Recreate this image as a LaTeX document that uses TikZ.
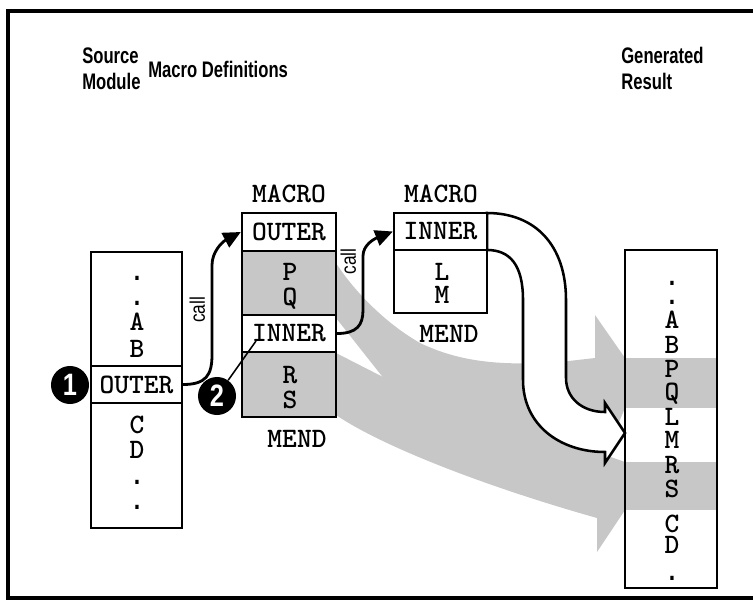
\documentclass[tikz,border=0pt]{standalone}
\usepackage{fontspec}
\setsansfont{Liberation Sans}[FakeStretch=0.82]
\newfontfamily\headfam{Liberation Sans}[FakeStretch=0.74]
\newfontfamily\cellfam{lmmonolt10-bold.otf}
\usepackage{tikz}
\usetikzlibrary{arrows.meta}
\definecolor{stipple}{gray}{0.78}
\newcommand{\cellfont}{\cellfam\fontsize{20}{20}\selectfont}
\newcommand{\dotc}{{\sffamily\bfseries .}}

\begin{document}
\begin{tikzpicture}[x=0.025cm, y=-0.025cm,
  box/.style={draw, line width=1.6pt, fill=white, inner sep=0pt},
  shadebox/.style={box, fill=stipple},
  letter/.style={font=\cellfont, anchor=base, inner sep=0pt},
  heading/.style={font=\headfam\bfseries\fontsize{16}{16}\selectfont, anchor=base west, inner sep=0pt},
  badge/.style={circle, fill=black, minimum size=0.95cm, inner sep=0pt, text=white,
    font=\sffamily\bfseries\fontsize{22}{22}\selectfont},
  callarrow/.style={line width=2pt, -{Triangle[length=0.44cm, width=0.4cm]}},
  calllabel/.style={font=\sffamily\fontsize{15}{15}\selectfont, rotate=90, inner sep=0pt}]
\useasboundingbox (0,0) rectangle (753,602);
% frame, open on the right
\draw[line width=3.5pt] (770,11) -- (8,11) -- (8,598) -- (770,598);

% headings
\node[heading] (hSource) at (82,64) {Source};
\node[heading] (hModule) at (82,90) {Module};
\node[heading] (hMacro) at (148,78) {Macro Definitions};
\node[heading] (hGen) at (621,64) {Generated};
\node[heading] (hRes) at (621,90) {Result};

% gray flows from the macro bodies into the result
\fill[stipple] (336,263) .. controls (350,285) and (380,320) .. (420,343)
  .. controls (460,362) and (500,366) .. (560,362) -- (595,358) -- (595,315)
  -- (625,358) -- (625,408) -- (605,455) .. controls (500,455) and (420,405) .. (385,380)
  -- (336,318) -- cycle;
\fill[stipple] (336,353) -- (385,378) .. controls (450,405) and (540,440) .. (605,455)
  -- (625,462) -- (625,510) -- (597,552) -- (597,518)
  .. controls (480,485) and (380,445) .. (336,415) -- cycle;
\fill[stipple] (625,358) rectangle (717,408);
\fill[stipple] (625,462) rectangle (717,510);

% white flow from the inner macro
\draw[line width=1.8pt, fill=white, line join=miter] (487,213)
  .. controls (535,213) and (566,245) .. (566,300) -- (566,378)
  .. controls (566,398) and (582,412) .. (605,412) -- (605,403) -- (625,433)
  -- (605,463) -- (605,452) .. controls (560,452) and (523,425) .. (523,380)
  -- (523,300) .. controls (523,265) and (510,250) .. (487,250) -- cycle;

% source module
\node[box, minimum width=2.275cm, minimum height=2.85cm] (srcTop) at (136.5,309) {};
\node[box, minimum width=2.275cm, minimum height=0.925cm, font=\cellfont] (srcOuter) at (136.5,384.5) {OUTER};
\node[box, minimum width=2.275cm, minimum height=3.125cm] (srcBot) at (136.5,465.5) {};
\foreach \t/\y [count=\i] in {\dotc/280, \dotc/305, A/330, B/357}
  \node[letter] (srcU\i) at (137,\y) {\t};
\foreach \t/\y [count=\i] in {C/433, D/458, \dotc/484, \dotc/509}
  \node[letter] (srcL\i) at (137,\y) {\t};

% macro OUTER
\node[letter] (m1Head) at (289,203) {MACRO};
\node[box, minimum width=2.35cm, minimum height=0.95cm, font=\cellfont] (m1Outer) at (289,232) {OUTER};
\node[shadebox, minimum width=2.35cm, minimum height=1.6cm] (m1PQ) at (289,283) {};
\node[box, minimum width=2.35cm, minimum height=0.925cm, font=\cellfont] (m1Inner) at (289,333.5) {INNER};
\node[shadebox, minimum width=2.35cm, minimum height=1.625cm] (m1RS) at (289,384.5) {};
\node[letter] (m1P) at (290,280) {P};
\node[letter] (m1Q) at (290,305) {Q};
\node[letter] (m1R) at (290,383) {R};
\node[letter] (m1S) at (290,408) {S};
\node[letter] (m1End) at (297,447) {MEND};

% macro INNER
\node[letter] (m2Head) at (441,203) {MACRO};
\node[box, minimum width=2.325cm, minimum height=0.925cm, font=\cellfont] (m2Inner) at (440.5,231.5) {INNER};
\node[box, minimum width=2.325cm, minimum height=1.575cm] (m2LM) at (440.5,281.5) {};
\node[letter] (m2L) at (442,280) {L};
\node[letter] (m2M) at (442,303) {M};
\node[letter] (m2End) at (449,342) {MEND};

% generated result
\node[box, fill=none, line width=1.4pt, minimum width=2.3cm, minimum height=8.45cm] (res) at (671,419) {};
\foreach \t/\y [count=\i] in {\dotc/285, \dotc/304, A/328, B/353, P/377, Q/400, L/425,
    M/448, R/473, S/497, C/532, D/553, \dotc/580}
  \node[letter] (res\i) at (672,\y) {\t};

% calls
\draw[callarrow] (srcOuter.east) .. controls (206,384.5) and (212,375) .. (212,355)
  -- (212,265) node[calllabel, midway, anchor=south, inner sep=4pt] {call}
  .. controls (212,252) and (222,242) .. (m1Outer.west);
\draw[callarrow] (m1Inner.east) .. controls (357,333.5) and (363,325) .. (363,310)
  -- (363,256) node[calllabel, pos=0.9, anchor=south, inner sep=4pt] {call}
  .. controls (363,245) and (374,239) .. (m2Inner.west);

% numbered markers
\node[badge] (b1) at (70,385) {1};
\node[badge] (b2) at (217,396) {2};
\coordinate (ptrTwo) at (256,341);
\draw[line width=1.1pt] (b2) -- (ptrTwo);
\end{tikzpicture}
\end{document}
